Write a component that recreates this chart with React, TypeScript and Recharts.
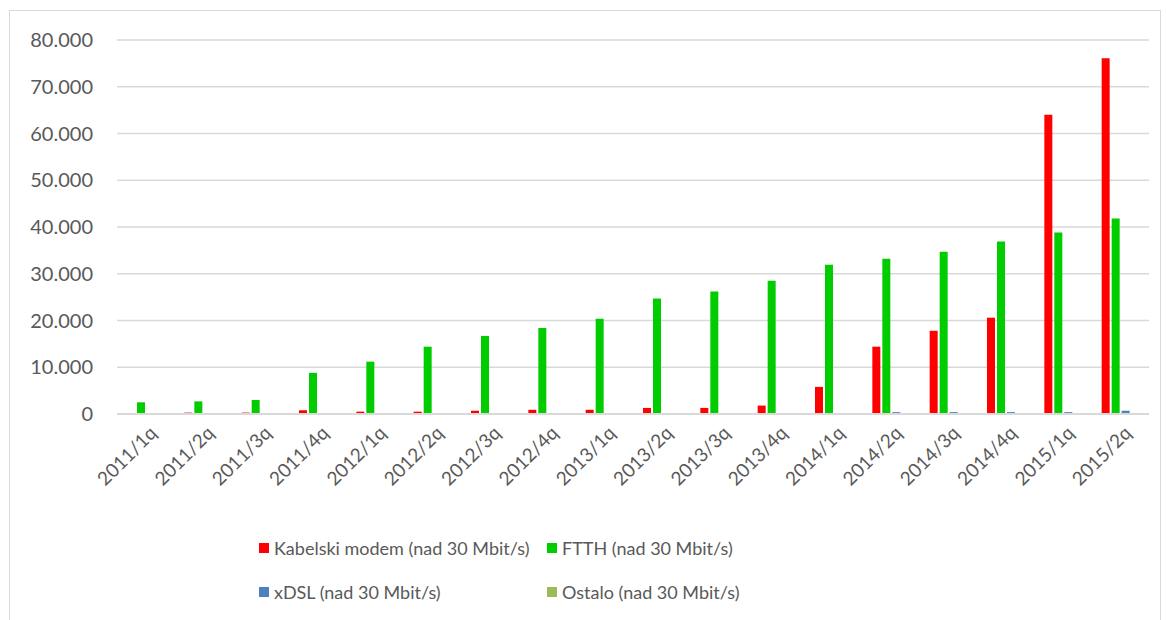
import React from "react";
import { BarChart, Bar, XAxis, YAxis, CartesianGrid, Legend } from "recharts";

const quarters = [
  "2011/1q", "2011/2q", "2011/3q", "2011/4q",
  "2012/1q", "2012/2q", "2012/3q", "2012/4q",
  "2013/1q", "2013/2q", "2013/3q", "2013/4q",
  "2014/1q", "2014/2q", "2014/3q", "2014/4q",
  "2015/1q", "2015/2q",
];

const kabelski = [0, 300, 300, 800, 500, 500, 700, 900, 900, 1300, 1300, 1800, 5800, 14400, 17800, 20600, 64000, 76100];
const ftth = [2500, 2700, 3000, 8800, 11200, 14400, 16700, 18400, 20400, 24700, 26200, 28500, 31900, 33200, 34700, 36900, 38800, 41800];
const xdsl = [0, 0, 0, 0, 0, 0, 0, 0, 0, 0, 0, 0, 0, 400, 400, 400, 400, 700];
const ostalo = [0, 0, 0, 0, 0, 0, 0, 0, 0, 0, 0, 0, 0, 0, 0, 0, 0, 0];

const yTicks = [0, 10000, 20000, 30000, 40000, 50000, 60000, 70000, 80000];

const series = [
  { key: "kabelski", name: "Kabelski modem (nad 30 Mbit/s)", color: "#ff0000" },
  { key: "ftth", name: "FTTH (nad 30 Mbit/s)", color: "#00cc00" },
  { key: "xdsl", name: "xDSL (nad 30 Mbit/s)", color: "#4f81bd" },
  { key: "ostalo", name: "Ostalo (nad 30 Mbit/s)", color: "#9bbb59" },
];

const data = quarters.map((q, i) => ({
  q,
  kabelski: kabelski[i],
  ftth: ftth[i],
  xdsl: xdsl[i],
  ostalo: ostalo[i],
}));

const FONT = "Lato, 'Liberation Sans', sans-serif";
const TEXT = "#595959";

const fmt = (v: number) =>
  v === 0 ? "0" : v.toLocaleString("de-DE", { minimumFractionDigits: 0 });

const XTick = (props: any) => {
  const { x, y, payload } = props;
  return (
    <g transform={`translate(${x + 8},${y + 8})`}>
      <text
        textAnchor="end"
        transform="rotate(-45)"
        fill={TEXT}
        fontSize={19}
        fontFamily={FONT}
        dy={6}
      >
        {payload.value}
      </text>
    </g>
  );
};

const LegendBox = () => (
  <div
    style={{
      display: "grid",
      gridTemplateColumns: "288px 300px",
      rowGap: 18,
      marginLeft: 249,
      paddingTop: 5,
      fontFamily: FONT,
      fontSize: 18,
      color: TEXT,
      whiteSpace: "nowrap",
    }}
  >
    {series.map((s) => (
      <div key={s.key} style={{ display: "flex", alignItems: "center", height: 26 }}>
        <span
          style={{
            display: "inline-block",
            width: 10,
            height: 10,
            background: s.color,
            marginRight: 5,
          }}
        />
        <span>{s.name}</span>
      </div>
    ))}
  </div>
);

export default function App() {
  return (
    <div
      style={{
        position: "absolute",
        left: 9,
        top: 10,
        width: 1150,
        height: 620,
        borderLeft: "1px solid #d9d9d9",
        borderTop: "1px solid #d9d9d9",
        borderRight: "1px solid #d9d9d9",
        background: "#fff",
      }}
    >
      <BarChart
        width={1149}
        height={594}
        data={data}
        margin={{ top: 29, right: 10, left: 0, bottom: 0 }}
        barSize={8}
        barGap={2}
      >
        <CartesianGrid vertical={false} stroke="#d9d9d9" strokeWidth={1.5} />
        <XAxis
          dataKey="q"
          interval={0}
          height={116}
          tickLine={false}
          axisLine={{ stroke: "#d9d9d9", strokeWidth: 2 }}
          tick={<XTick />}
        />
        <YAxis
          width={107}
          domain={[0, 80000]}
          ticks={yTicks}
          tickFormatter={fmt}
          axisLine={false}
          tickLine={false}
          tickSize={0}
          tickMargin={24}
          tick={{ fill: TEXT, fontSize: 20, fontFamily: FONT }}
        />
        <Legend verticalAlign="bottom" content={<LegendBox />} />
        {series.map((s) => (
          <Bar key={s.key} dataKey={s.key} name={s.name} fill={s.color} isAnimationActive={false} />
        ))}
      </BarChart>
    </div>
  );
}
